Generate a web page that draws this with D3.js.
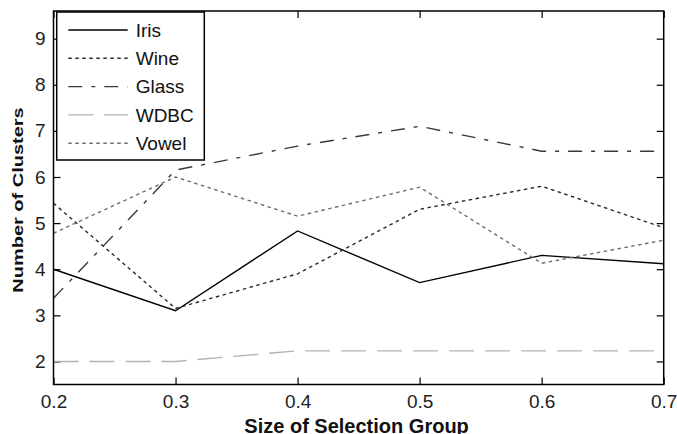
<!DOCTYPE html>
<html>
<head>
<meta charset="utf-8">
<script src="https://cdn.jsdelivr.net/npm/d3@7"></script>
<style>
  body { margin: 0; background: #fff; }
  svg { display: block; font-family: "Liberation Sans", Arial, sans-serif; }
  .tick line { stroke: #000; stroke-width: 1.2; }
  .tick text { font-size: 19px; fill: #222; }
  .axisLabel { font-size: 20px; font-weight: bold; fill: #111; }
</style>
</head>
<body>
<svg id="chart" width="677" height="434"></svg>
<script>
const sizes = [0.2, 0.3, 0.4, 0.5, 0.6, 0.7];
const iris  = [4.0, 3.1, 4.83, 3.71, 4.3, 4.12];
const wine  = [5.43, 3.15, 3.9, 5.3, 5.8, 4.9];
const glass = [3.37, 6.15, 6.67, 7.1, 6.56, 6.56];
const wdbc  = [2.0, 2.0, 2.23, 2.23, 2.23, 2.23];
const vowel = [4.78, 6.0, 5.15, 5.78, 4.13, 4.63];

const seriesNames = ["Iris", "Wine", "Glass", "WDBC", "Vowel"];
const xTicks = [0.2, 0.3, 0.4, 0.5, 0.6, 0.7];
const yTicks = [2, 3, 4, 5, 6, 7, 8, 9];

// line looks, matched to the legend order
const styles = [
    { color: "#000", dash: null },
    { color: "#2a2a2a", dash: "3.5,3.5" },
    { color: "#3a3a3a", dash: "14,9,4,9" },
    { color: "#b4b4b4", dash: "25,11" },
    { color: "#6e6e6e", dash: "3.5,3.5" }
];

const svg = d3.select("#chart");
const width = +svg.attr("width");
const height = +svg.attr("height");
const margin = { top: 11, right: 13.3, bottom: 49.5, left: 53.5 };
const innerWidth = width - margin.left - margin.right;
const innerHeight = height - margin.top - margin.bottom;

const xScale = d3.scaleLinear().domain([0.2, 0.7]).range([0, innerWidth]);
const yScale = d3.scaleLinear().domain([1.5, 9.6]).range([innerHeight, 0]);

const g = svg.append("g").attr("transform", `translate(${margin.left},${margin.top})`);

// axes, ticks pointing inward on all four sides
const bottomAxis = g.append("g")
    .attr("transform", `translate(0,${innerHeight})`)
    .call(d3.axisBottom(xScale).tickValues(xTicks).tickSize(-7).tickPadding(10).tickFormat(d3.format(".1f")));
const leftAxis = g.append("g")
    .call(d3.axisLeft(yScale).tickValues(yTicks).tickSize(-7).tickPadding(8).tickFormat(d3.format("d")));
const topAxis = g.append("g")
    .call(d3.axisTop(xScale).tickValues(xTicks).tickSize(-7).tickFormat(""));
const rightAxis = g.append("g")
    .attr("transform", `translate(${innerWidth},0)`)
    .call(d3.axisRight(yScale).tickValues(yTicks).tickSize(-7).tickFormat(""));
[bottomAxis, leftAxis, topAxis, rightAxis].forEach(a => a.select(".domain").remove());

const allSeries = [iris, wine, glass, wdbc, vowel];
const line = d3.line()
    .x((d, i) => xScale(sizes[i]))
    .y(d => yScale(d));

g.selectAll("path.series")
    .data(allSeries)
    .enter()
    .append("path")
    .attr("class", "series")
    .attr("fill", "none")
    .attr("stroke", (d, i) => styles[i].color)
    .attr("stroke-width", 1.4)
    .attr("stroke-dasharray", (d, i) => styles[i].dash)
    .attr("d", line);

// frame
g.append("rect")
    .attr("width", innerWidth)
    .attr("height", innerHeight)
    .attr("fill", "none")
    .attr("stroke", "#000")
    .attr("stroke-width", 1.5);

// legend
const legend = g.append("g").attr("transform", "translate(3.2,1)");
legend.append("rect")
    .attr("width", 147.6)
    .attr("height", 148)
    .attr("fill", "#fff")
    .attr("stroke", "#000")
    .attr("stroke-width", 1.5);

const rows = legend.selectAll("g.row")
    .data(seriesNames)
    .enter()
    .append("g")
    .attr("class", "row")
    .attr("transform", (d, i) => `translate(0,${18 + i * 28.3})`);

rows.append("line")
    .attr("x1", 11.6)
    .attr("x2", 71)
    .attr("stroke", (d, i) => styles[i].color)
    .attr("stroke-width", 1.4)
    .attr("stroke-dasharray", (d, i) => styles[i].dash);

rows.append("text")
    .attr("x", 79)
    .attr("dy", "0.35em")
    .style("font-size", "19px")
    .style("fill", "#111")
    .text(d => d);

// axis titles
svg.append("text")
    .attr("class", "axisLabel")
    .attr("x", margin.left + innerWidth / 2 - 2)
    .attr("y", 432.5)
    .attr("text-anchor", "middle")
    .text("Size of Selection Group");

svg.append("text")
    .attr("class", "axisLabel")
    .attr("transform", "translate(23,200) rotate(-90) scale(1,0.72)")
    .attr("text-anchor", "middle")
    .text("Number of Clusters");
</script>
</body>
</html>
